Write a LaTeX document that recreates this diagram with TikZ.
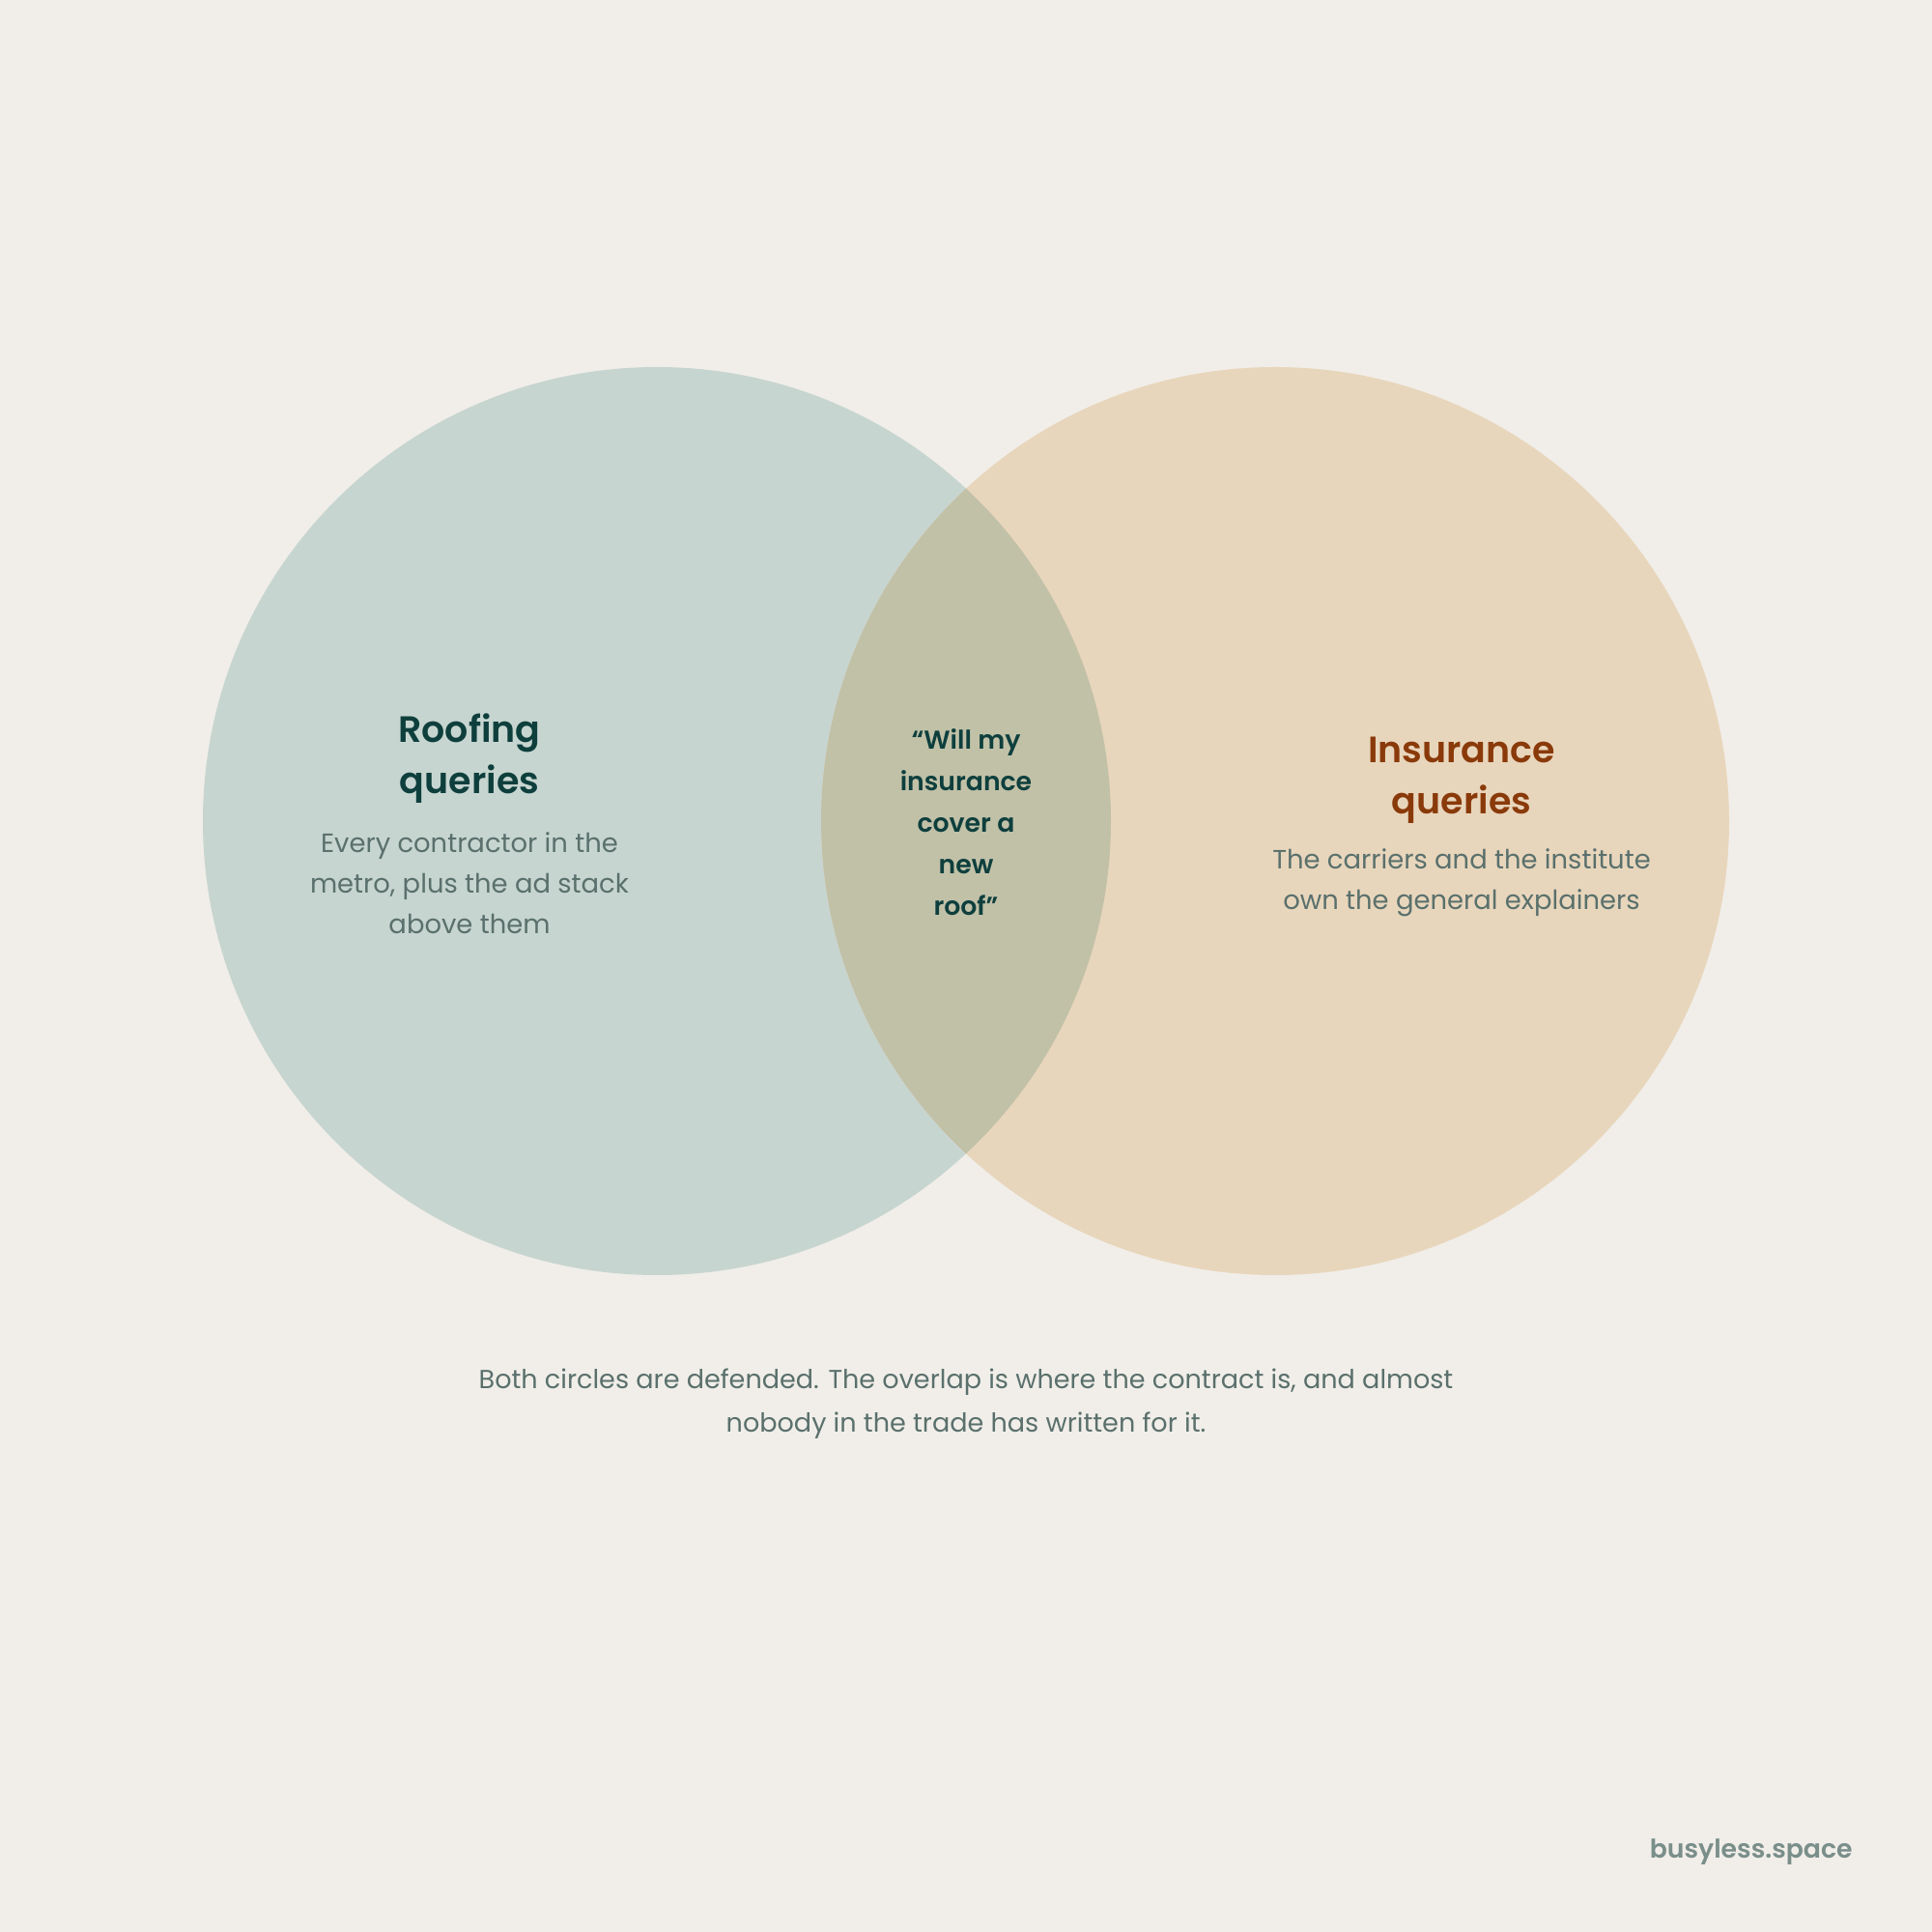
\documentclass[tikz,border=0pt]{standalone}
\usepackage{fontspec}
\setmainfont{Poppins}[BoldFont={Poppins SemiBold}]
\definecolor{paper}{HTML}{F1EEE9}
\definecolor{sage}{HTML}{C7D5D0}
\definecolor{sand}{HTML}{E8D6BC}
\definecolor{olive}{HTML}{C1C1A8}
\definecolor{deepteal}{HTML}{0E3F3D}
\definecolor{rust}{HTML}{8A3A0A}
\definecolor{slate}{HTML}{5A706C}
\definecolor{mark}{HTML}{7A8E8A}
\tikzset{
  title/.style={align=center, font=\fontsize{10.8}{15.2}\selectfont\bfseries},
  body/.style={align=center, text=slate, font=\fontsize{7.8}{11.9}\selectfont},
}
\begin{document}
\begin{tikzpicture}
\useasboundingbox[fill=paper] (0,0) rectangle (20,20);
\coordinate (l) at (6.8,11.5);
\coordinate (r) at (13.2,11.5);
\fill[sage] (l) circle(4.7);
\fill[sand] (r) circle(4.7);
\begin{scope}
\clip (l) circle(4.7);
\fill[olive] (r) circle(4.7);
\end{scope}
\node[title, text=deepteal] (roof) at (4.86,12.15) {Roofing\\queries};
\node[body] (roofnote) at (4.86,10.86) {Every contractor in the\\metro, plus the ad stack\\above them};
\node[title, text=rust] (ins) at (15.13,11.92) {Insurance\\queries};
\node[body] (insnote) at (15.13,10.86) {The carriers and the institute\\own the general explainers};
\node[align=center, text=deepteal, font=\fontsize{7.6}{12.2}\selectfont\bfseries] (quote) at (10,11.49) {“Will my\\insurance\\cover a\\new\\roof”};
\node[body, font=\fontsize{7.7}{12.8}\selectfont] (foot) at (10,5.47) {Both circles are defended. The overlap is where the contract is, and almost\\nobody in the trade has written for it.};
\node[anchor=east, text=mark, font=\fontsize{7.6}{10}\selectfont\bfseries] (brand) at (19.3,0.83) {busyless.space};
\end{tikzpicture}
\end{document}
